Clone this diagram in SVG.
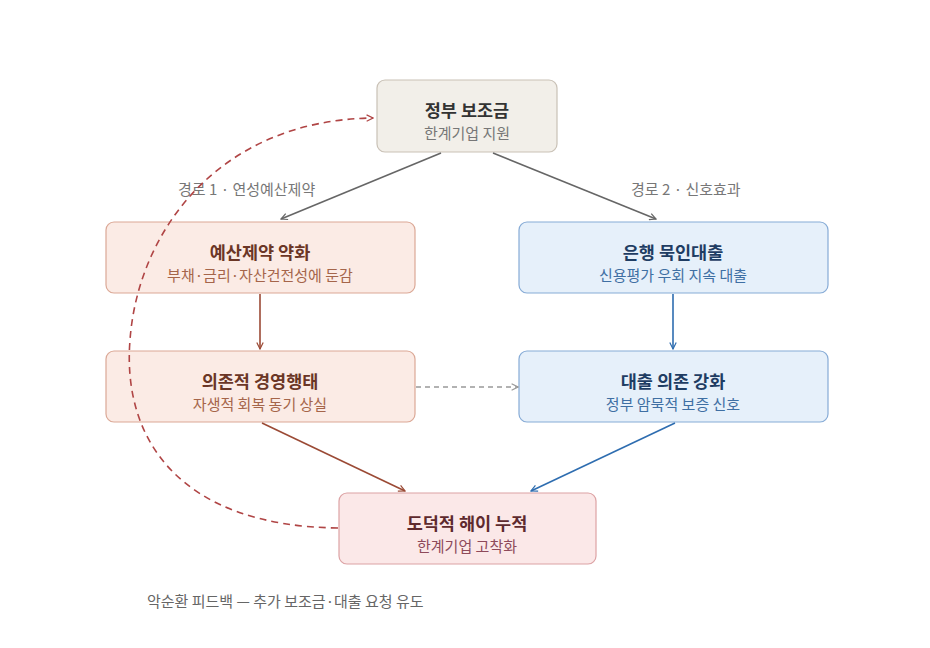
<svg xmlns="http://www.w3.org/2000/svg" width="930" height="648" viewBox="0 0 930 648">
<style>
text{font-family:"Noto Sans CJK KR","Noto Sans",sans-serif;text-anchor:middle}
.t{font-size:17.5px;font-weight:bold}
.s{font-size:15px}
.lbl{font-size:15px;fill:#777;text-anchor:start}
.gray{fill:#f2efe9;stroke:#c9c1b6;stroke-width:1.2}
.warm{fill:#fbebe5;stroke:#dba896;stroke-width:1.2}
.blue{fill:#e6f0fa;stroke:#86abd6;stroke-width:1.2}
.pink{fill:#fbe8e8;stroke:#dca2a4;stroke-width:1.2}
</style>
<defs>
<marker id="ag" viewBox="0 0 10 10" refX="9" refY="5" markerWidth="8" markerHeight="8" orient="auto" markerUnits="userSpaceOnUse"><path d="M1,1 L9,5 L1,9" fill="none" stroke="#666" stroke-width="1.5"/></marker>
<marker id="ab" viewBox="0 0 10 10" refX="9" refY="5" markerWidth="8" markerHeight="8" orient="auto" markerUnits="userSpaceOnUse"><path d="M1,1 L9,5 L1,9" fill="none" stroke="#9b4a35" stroke-width="1.5"/></marker>
<marker id="abl" viewBox="0 0 10 10" refX="9" refY="5" markerWidth="8" markerHeight="8" orient="auto" markerUnits="userSpaceOnUse"><path d="M1,1 L9,5 L1,9" fill="none" stroke="#2e6db0" stroke-width="1.5"/></marker>
<marker id="agd" viewBox="0 0 10 10" refX="9" refY="5" markerWidth="8" markerHeight="8" orient="auto" markerUnits="userSpaceOnUse"><path d="M1,1 L9,5 L1,9" fill="none" stroke="#999" stroke-width="1.5"/></marker>
<marker id="ar" viewBox="0 0 10 10" refX="9" refY="5" markerWidth="8" markerHeight="8" orient="auto" markerUnits="userSpaceOnUse"><path d="M1,1 L9,5 L1,9" fill="none" stroke="#b04545" stroke-width="1.5"/></marker>
</defs>
<rect width="930" height="648" fill="#fff"/>
<g id="labels">
<text class="lbl" x="178" y="195">경로 1 · 연성예산제약</text>
<text class="lbl" x="631" y="195">경로 2 · 신호효과</text>
<text class="lbl" x="147" y="607" style="fill:#666">악순환 피드백 — 추가 보조금·대출 요청 유도</text>
</g>
<g id="n-gov">
<rect class="gray" x="377" y="80" width="180" height="72" rx="8"/>
<text class="t" x="467" y="117" fill="#333">정부 보조금</text>
<text class="s" x="467" y="139" fill="#777">한계기업 지원</text>
</g>
<g id="n-sbc">
<rect class="warm" x="106" y="222" width="309" height="71" rx="8"/>
<text class="t" x="260" y="259" fill="#6b3626">예산제약 약화</text>
<text class="s" x="260" y="281" fill="#a5654a">부채·금리·자산건전성에 둔감</text>
</g>
<g id="n-bank">
<rect class="blue" x="519" y="222" width="309" height="71" rx="8"/>
<text class="t" x="673" y="259" fill="#1f3d63">은행 묵인대출</text>
<text class="s" x="673" y="281" fill="#3f6fa3">신용평가 우회 지속 대출</text>
</g>
<g id="n-dep">
<rect class="warm" x="106" y="351" width="309" height="71" rx="8"/>
<text class="t" x="260" y="388" fill="#6b3626">의존적 경영행태</text>
<text class="s" x="260" y="410" fill="#a5654a">자생적 회복 동기 상실</text>
</g>
<g id="n-loan">
<rect class="blue" x="519" y="351" width="309" height="71" rx="8"/>
<text class="t" x="673" y="388" fill="#1f3d63">대출 의존 강화</text>
<text class="s" x="673" y="410" fill="#3f6fa3">정부 암묵적 보증 신호</text>
</g>
<g id="n-moral">
<rect class="pink" x="339" y="493" width="257" height="71" rx="8"/>
<text class="t" x="467" y="530" fill="#5e2a2e">도덕적 해이 누적</text>
<text class="s" x="467" y="552" fill="#8e4a5a">한계기업 고착화</text>
</g>
<g id="connectors" fill="none" stroke-width="1.6">
<path d="M441,153 L281,219" stroke="#666" marker-end="url(#ag)"/>
<path d="M493,153 L656,219" stroke="#666" marker-end="url(#ag)"/>
<path d="M260,294 L260,349" stroke="#9b4a35" marker-end="url(#ab)"/>
<path d="M673,294 L673,349" stroke="#2e6db0" marker-end="url(#abl)"/>
<path d="M416,387 L518,387" stroke="#999" stroke-dasharray="5,4" marker-end="url(#agd)"/>
<path d="M262,423 L405,491" stroke="#9b4a35" marker-end="url(#ab)"/>
<path d="M675,423 L531,491" stroke="#2e6db0" marker-end="url(#abl)"/>
<path d="M338,528 C180,526 122,440 130,340 C138,230 220,120 373,118" stroke="#b04545" stroke-dasharray="7,5" marker-end="url(#ar)"/>
</g>
</svg>
